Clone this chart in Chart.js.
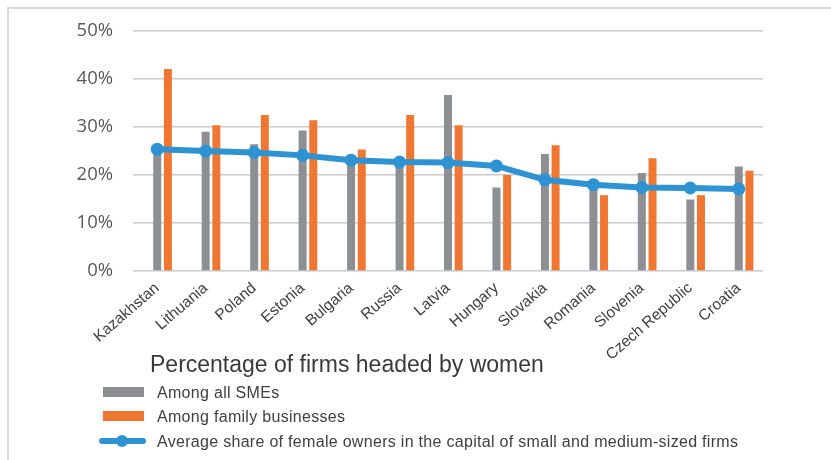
<!DOCTYPE html>
<html>
<head>
<meta charset="utf-8">
<script src="https://cdn.jsdelivr.net/npm/chart.js@4/dist/chart.umd.min.js"></script>
<style>
  html, body { margin: 0; padding: 0; background: #ffffff; }
  #wrap { position: relative; width: 831px; height: 460px; }
</style>
</head>
<body>
<div id="wrap"><canvas id="chart" width="831" height="460"></canvas></div>
<script>
// Countries, in the order shown on the axis
const categories = ['Kazakhstan', 'Lithuania', 'Poland', 'Estonia', 'Bulgaria', 'Russia', 'Latvia',
  'Hungary', 'Slovakia', 'Romania', 'Slovenia', 'Czech Republic', 'Croatia'];

// Share of firms headed by women, %
const amongAllSmes = [25.6, 29.0, 26.4, 29.3, 23.6, 22.8, 36.7, 17.4, 24.4, 18.0, 20.4, 14.9, 21.8];
const amongFamilyBusinesses = [42.1, 30.4, 32.5, 31.4, 25.3, 32.5, 30.4, 20.0, 26.2, 15.8, 23.5, 15.8, 20.9];

// Average share of female owners in the capital of SMEs, %
const averageOwnerShare = [25.4, 25.0, 24.7, 24.1, 23.1, 22.7, 22.6, 21.9, 19.0, 18.0, 17.4, 17.3, 17.1];

// Y axis tick values
const yTicks = [0, 10, 20, 30, 40, 50];

const legendTitle = 'Percentage of firms headed by women';

// Thin frame along the top and left edges
const framePlugin = {
  id: 'frame',
  beforeDraw(chart) {
    const ctx = chart.ctx;
    ctx.save();
    ctx.fillStyle = '#ffffff';
    ctx.fillRect(0, 0, chart.width, chart.height);
    ctx.strokeStyle = '#dadada';
    ctx.lineWidth = 2;
    ctx.beginPath();
    ctx.moveTo(8, chart.height);
    ctx.lineTo(8, 8);
    ctx.lineTo(chart.width, 8);
    ctx.stroke();
    ctx.restore();
  }
};

// Legend stacked one entry per line beneath the axis labels: bars first, then the line
const stackedLegend = {
  id: 'stackedLegend',
  afterDraw(chart) {
    const ctx = chart.ctx;
    ctx.save();
    ctx.textAlign = 'left';
    ctx.textBaseline = 'alphabetic';
    ctx.fillStyle = '#3a3a3a';
    ctx.font = '23px "Liberation Sans", Arial, sans-serif';
    ctx.fillText(legendTitle, 150, 372);

    const rows = chart.data.datasets
      .filter(d => d.label)
      .sort((a, b) => (a.type === 'line') - (b.type === 'line'));
    const baselines = [398, 422, 447];
    ctx.font = '16px "Liberation Sans", Arial, sans-serif';
    if ('letterSpacing' in ctx) ctx.letterSpacing = '0.3px';
    rows.forEach((ds, i) => {
      const base = baselines[i];
      const midY = base - 6;
      if (ds.type === 'line') {
        ctx.strokeStyle = ds.borderColor;
        ctx.lineWidth = 6;
        ctx.lineCap = 'round';
        ctx.beginPath();
        ctx.moveTo(102, midY);
        ctx.lineTo(143, midY);
        ctx.stroke();
        ctx.fillStyle = ds.borderColor;
        ctx.beginPath();
        ctx.arc(122, midY, 6, 0, Math.PI * 2);
        ctx.fill();
      } else {
        ctx.fillStyle = ds.backgroundColor;
        ctx.fillRect(103, midY - 5, 41, 10);
      }
      ctx.fillStyle = '#404040';
      ctx.fillText(ds.label, 157, base);
    });
    ctx.restore();
  }
};

new Chart(document.getElementById('chart'), {
  data: {
    labels: categories,
    datasets: [
      {
        type: 'line',
        label: 'Average share of female owners in the capital of small and medium-sized firms',
        data: averageOwnerShare,
        borderColor: '#2d93d3',
        backgroundColor: '#2d93d3',
        borderWidth: 6,
        pointRadius: 6.5,
        pointBackgroundColor: '#2d93d3',
        pointBorderWidth: 0,
        tension: 0,
        order: 0
      },
      {
        // empty slot to the left of each group so the grey bar sits on the category centre
        type: 'bar',
        label: '',
        data: categories.map(() => null),
        backgroundColor: 'rgba(0,0,0,0)',
        order: 1
      },
      {
        type: 'bar',
        label: 'Among all SMEs',
        data: amongAllSmes,
        backgroundColor: '#8e8f93',
        order: 1
      },
      {
        type: 'bar',
        label: 'Among family businesses',
        data: amongFamilyBusinesses,
        backgroundColor: '#ef7731',
        order: 1
      }
    ]
  },
  options: {
    responsive: false,
    animation: false,
    layout: { padding: { left: 0, right: 68, top: 29, bottom: 0 } },
    datasets: {
      bar: { categoryPercentage: 0.66, barPercentage: 0.75 }
    },
    plugins: {
      legend: { display: false },
      tooltip: { enabled: false }
    },
    scales: {
      x: {
        grid: { display: false },
        border: { display: false },
        ticks: {
          color: '#404040',
          font: { family: '"Liberation Sans", Arial, sans-serif', size: 15.5 },
          minRotation: 41,
          maxRotation: 41,
          autoSkip: false,
          padding: 0
        },
        afterFit(scale) { scale.height = 189; }
      },
      y: {
        min: 0,
        max: 50,
        afterBuildTicks(scale) { scale.ticks = yTicks.map(v => ({ value: v })); },
        grid: { color: '#c9cacd', lineWidth: 1.6, drawTicks: false },
        border: { display: false },
        ticks: {
          color: '#595959',
          font: { family: '"Open Sans", sans-serif', size: 18.5 },
          padding: 20,
          callback: v => v + '%'
        },
        afterFit(scale) { scale.width = 133; }
      }
    }
  },
  plugins: [framePlugin, stackedLegend]
});
</script>
</body>
</html>
